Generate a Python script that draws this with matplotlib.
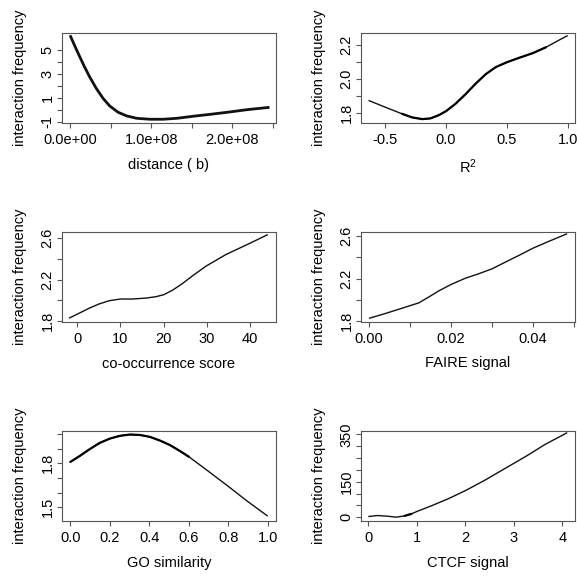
import matplotlib
matplotlib.use('Agg')
import matplotlib.pyplot as plt

plt.rcParams['font.family'] = ['Liberation Sans', 'DejaVu Sans']
plt.rcParams['mathtext.fontset'] = 'custom'
plt.rcParams['mathtext.rm'] = 'Liberation Sans'
plt.rcParams['mathtext.it'] = 'Liberation Sans:italic'

# distance panel
distX = [0, 0.054e8, 0.116e8, 0.178e8, 0.24e8, 0.323e8, 0.406e8, 0.489e8, 0.592e8, 0.696e8,
         0.82e8, 0.985e8, 1.15e8, 1.32e8, 1.52e8, 1.73e8, 1.94e8, 2.19e8, 2.46e8]
distY = [6.19, 5.36, 4.45, 3.57, 2.75, 1.78, 0.96, 0.32, -0.20, -0.50,
         -0.70, -0.78, -0.78, -0.70, -0.53, -0.37, -0.20, 0.02, 0.21]

# R^2 panel
r2X = [-0.638, -0.5, -0.362, -0.28, -0.197, -0.129, -0.061, 0.0, 0.077, 0.16,
       0.242, 0.325, 0.408, 0.5, 0.601, 0.711, 0.821, 0.931, 1.0]
r2Y = [1.873, 1.833, 1.794, 1.773, 1.763, 1.767, 1.786, 1.81, 1.853, 1.91,
       1.971, 2.027, 2.069, 2.098, 2.124, 2.151, 2.186, 2.229, 2.255]

# co-occurrence panel
coocX = [-1.94, 0.39, 2.7, 5.0, 7.4, 10, 12.8, 15.9, 18.2, 20, 22.1, 24.4, 26.7,
         29.9, 34.5, 39.9, 44.2]
coocY = [1.829, 1.876, 1.924, 1.965, 1.997, 2.013, 2.013, 2.022, 2.035, 2.054, 2.098,
         2.162, 2.235, 2.33, 2.441, 2.546, 2.632]

# FAIRE panel
faireX = [0, 0.0039, 0.008, 0.0121, 0.0145, 0.017, 0.02, 0.0235, 0.0267, 0.03,
          0.0332, 0.0365, 0.04, 0.0438, 0.0483]
faireY = [1.828, 1.872, 1.922, 1.972, 2.026, 2.085, 2.145, 2.204, 2.245, 2.292,
          2.354, 2.417, 2.486, 2.549, 2.621]

# GO similarity panel
goX = [0, 0.047, 0.098, 0.149, 0.2, 0.251, 0.302, 0.353, 0.403, 0.454, 0.505,
       0.556, 0.6, 0.692, 0.802, 0.895, 1.0]
goY = [1.809, 1.849, 1.896, 1.939, 1.968, 1.987, 1.996, 1.993, 1.980, 1.955, 1.924,
       1.883, 1.845, 1.753, 1.641, 1.543, 1.44]

# CTCF panel
ctcfX = [0, 0.19, 0.4, 0.57, 0.75, 0.89, 1.0, 1.3, 1.65, 2.0, 2.41, 2.82, 3.24, 3.65, 4.1]
ctcfY = [2.8, 7, 4.2, 0, 5.6, 14, 24, 48, 78, 112, 157, 206, 256, 308, 357]

panels = [
    dict(x=distX, y=distY, xlabel='distance ( b)', lw=2.0, dense=None,
         xlim=(-0.1e8, 2.54e8), ylim=(-1.05, 6.38),
         xticks=[0, 0.5e8, 1e8, 1.5e8, 2e8, 2.5e8],
         xlabels=['0.0e+00', '', '1.0e+08', '', '2.0e+08', ''],
         yticks=[-1, 0, 1, 2, 3, 4, 5], ylabels=['-1', '', '1', '', '3', '', '5']),
    dict(x=r2X, y=r2Y, xlabel=r'R$^2$', lw=1.0, dense=(-0.45, 0.85),
         xlim=(-0.70, 1.06), ylim=(1.743, 2.27),
         xticks=[-0.5, 0, 0.5, 1.0], xlabels=['-0.5', '0.0', '0.5', '1.0'],
         yticks=[1.8, 1.9, 2.0, 2.1, 2.2], ylabels=['1.8', '', '2.0', '', '2.2']),
    dict(x=coocX, y=coocY, xlabel='co-occurrence score', lw=1.0, dense=None,
         xlim=(-3.57, 46.1), ylim=(1.797, 2.657),
         xticks=[0, 10, 20, 30, 40], xlabels=['0', '10', '20', '30', '40'],
         yticks=[1.8, 2.0, 2.2, 2.4, 2.6], ylabels=['1.8', '', '2.2', '', '2.6']),
    dict(x=faireX, y=faireY, xlabel='FAIRE signal', lw=1.0, dense=None,
         xlim=(-0.00195, 0.0502), ylim=(1.798, 2.637),
         xticks=[0, 0.01, 0.02, 0.03, 0.04, 0.05],
         xlabels=['0.00', '', '0.02', '', '0.04', ''],
         yticks=[1.8, 2.0, 2.2, 2.4, 2.6], ylabels=['1.8', '', '2.2', '', '2.6']),
    dict(x=goX, y=goY, xlabel='GO similarity', lw=1.0, dense=(0, 0.6),
         xlim=(-0.042, 1.042), ylim=(1.41, 2.02),
         xticks=[0, 0.2, 0.4, 0.6, 0.8, 1.0],
         xlabels=['0.0', '0.2', '0.4', '0.6', '0.8', '1.0'],
         yticks=[1.5, 1.6, 1.7, 1.8, 1.9, 2.0], ylabels=['1.5', '', '', '1.8', '', '']),
    dict(x=ctcfX, y=ctcfY, xlabel='CTCF signal', lw=1.0, dense=(0.7, 0.9),
         xlim=(-0.15, 4.26), ylim=(-14, 364),
         xticks=[0, 1, 2, 3, 4], xlabels=['0', '1', '2', '3', '4'],
         yticks=[0, 50, 100, 150, 200, 250, 300, 350],
         ylabels=['0', '', '', '150', '', '', '', '350']),
]

W = 577.0
fig = plt.figure(figsize=(5.77, 5.77), dpi=100)
lefts = [62, 361]
tops = [33, 232, 431]
boxW, boxH = 214, 89.5

for i, p in enumerate(panels):
    row, col = divmod(i, 2)
    ax = fig.add_axes([lefts[col] / W, 1 - (tops[row] + boxH) / W, boxW / W, boxH / W])
    ax.plot(p['x'], p['y'], color='#111111', lw=p['lw'], solid_capstyle='butt')
    if p['dense']:
        # denser stretch of the fitted points draws a heavier line
        lo, hi = p['dense']
        sub = [(a, b) for a, b in zip(p['x'], p['y']) if lo <= a <= hi]
        ax.plot([a for a, b in sub], [b for a, b in sub], color='black', lw=1.6,
                solid_capstyle='round')
    ax.set_xlim(*p['xlim'])
    ax.set_ylim(*p['ylim'])
    ax.set_xticks(p['xticks'])
    ax.set_xticklabels(p['xlabels'])
    ax.set_yticks(p['yticks'])
    ax.set_yticklabels(p['ylabels'], rotation=90, va='center')
    ax.tick_params(axis='both', direction='out', length=3.8, width=0.8,
                   labelsize=10.5, colors='black')
    ax.tick_params(axis='both', color='#555555')
    ax.tick_params(axis='x', pad=4)
    ax.tick_params(axis='y', pad=1.5)
    for s in ax.spines.values():
        s.set_linewidth(0.8)
        s.set_color('#555555')
    ax.set_xlabel(p['xlabel'], fontsize=10.5)
    ax.set_ylabel('interaction frequency', fontsize=10.5)
    ax.xaxis.set_label_coords(0.5, -35 / boxH)
    ax.yaxis.set_label_coords(-35 / boxW, 0.5)

fig.savefig('out.png', dpi=100)
